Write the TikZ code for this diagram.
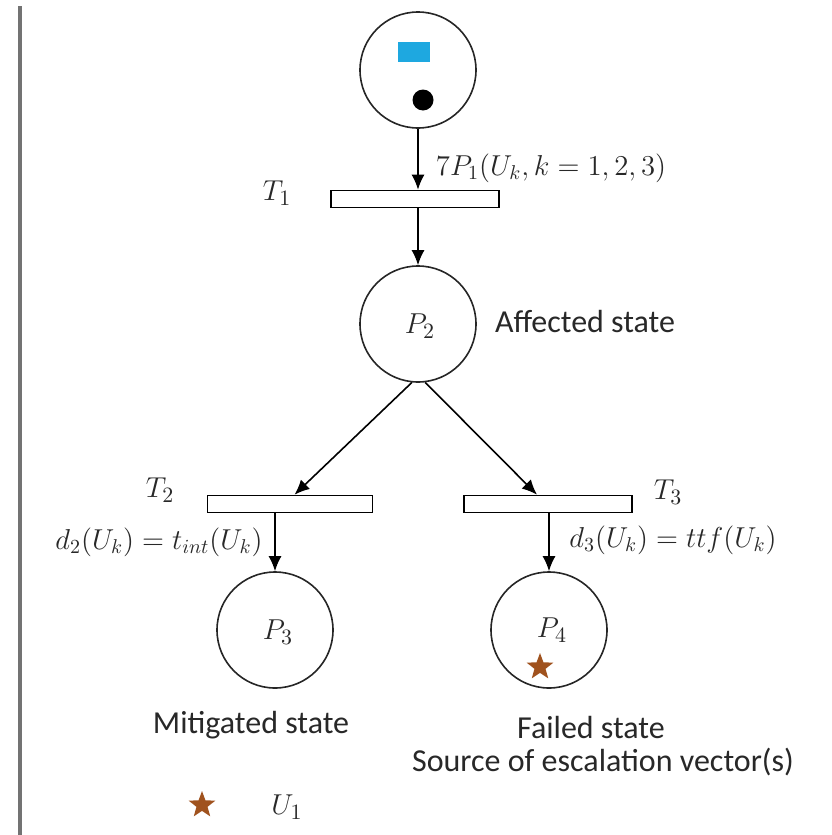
\documentclass[tikz,border=0pt]{standalone}
\usepackage{fontspec}
\setmainfont{Carlito}
\usetikzlibrary{arrows.meta,calc,shapes.geometric}
\definecolor{tokblue}{RGB}{30,168,224}
\definecolor{starbrown}{RGB}{160,82,30}
\definecolor{txt}{RGB}{40,40,40}
\tikzset{
  place/.style={circle,draw=black!85,line width=0.8pt,minimum size=58pt,inner sep=0pt},
  trans/.style={rectangle,draw=black,line width=0.8pt,minimum height=8.5pt,inner sep=0pt},
  arr/.style={-{Latex[length=7.5pt,width=6.5pt]},line width=0.8pt},
  lbl/.style={font=\fontsize{16}{18}\selectfont,text=txt,inner sep=0pt},
  mlbl/.style={font=\fontsize{15}{17}\selectfont,text=txt,inner sep=0pt},
  flbl/.style={font=\fontsize{14.3}{16}\selectfont,text=txt,inner sep=0pt},
  tokstar/.style={star,star points=5,star point ratio=2.4,fill=starbrown,inner sep=0pt,minimum size=14pt}
}
\begin{document}
\begin{tikzpicture}[x=0.5pt,y=-0.5pt]
\useasboundingbox[fill=white] (0,0) rectangle (831,835);
% left rule
\draw[line width=2pt,black!55] (20,6) -- (20,835);
% places
\node[place] (P1) at (418,70) {};
\node[place] (P2) at (418,324) {};
\node[place] (P3) at (275,630) {};
\node[place] (P4) at (549,630) {};
% transitions
\node[trans,minimum width=84pt] (T1) at (415,199) {};
\node[trans,minimum width=82.5pt] (T2) at (290,504) {};
\node[trans,minimum width=84pt] (T3) at (548,504) {};
% tokens in P1
\node[fill=tokblue,minimum width=16pt,minimum height=10pt,inner sep=0pt] (blue) at (414,52) {};
\node[circle,fill=black,minimum size=10.5pt,inner sep=0pt] (dot) at (423,100) {};
% arcs
\draw[arr] (P1.south) -- (P1.south |- T1.north);
\draw[arr] (P2.north |- T1.south) -- (P2.north);
\draw[arr] (P2.264) -- ($(T2.north west)!0.527!(T2.north east)$);
\draw[arr] (P2.277) -- ($(T3.north west)!0.435!(T3.north east)$);
\draw[arr] (P3.north |- T2.south) -- (P3.north);
\draw[arr] (P4.north |- T3.south) -- (P4.north);
% transition labels
\node[mlbl] (lT1) at (277,193) {$T_1$};
\node[mlbl] (lT2) at (160,490) {$T_2$};
\node[mlbl] (lT3) at (668,492) {$T_3$};
\node[flbl] (f1) at (551,168) {$7P_1(U_k,k=1,2,3)$};
\node[flbl] (f2) at (159,542) {$d_2(U_k)=t_{int}(U_k)$};
\node[flbl] (f3) at (673,540) {$d_3(U_k)=ttf(U_k)$};
% place labels
\node[mlbl] (lP2) at (420,326) {$P_2$};
\node[mlbl] (lP3) at (278,632) {$P_3$};
\node[mlbl] (lP4) at (552,630) {$P_4$};
\node[tokstar] (s4) at (540,667) {};
% text labels
\node[lbl] (aff) at (585,322) {Affected state};
\node[lbl] (mit) at (251,725) {Mitigated state};
\node[lbl] (fail) at (591,727) {Failed state};
\node[lbl] (src) at (603,762) {Source of escalation vector(s)};
% legend
\node[tokstar] (ls) at (202,805) {};
\node[mlbl] (lu) at (287,807) {$U_1$};
\end{tikzpicture}
\end{document}
